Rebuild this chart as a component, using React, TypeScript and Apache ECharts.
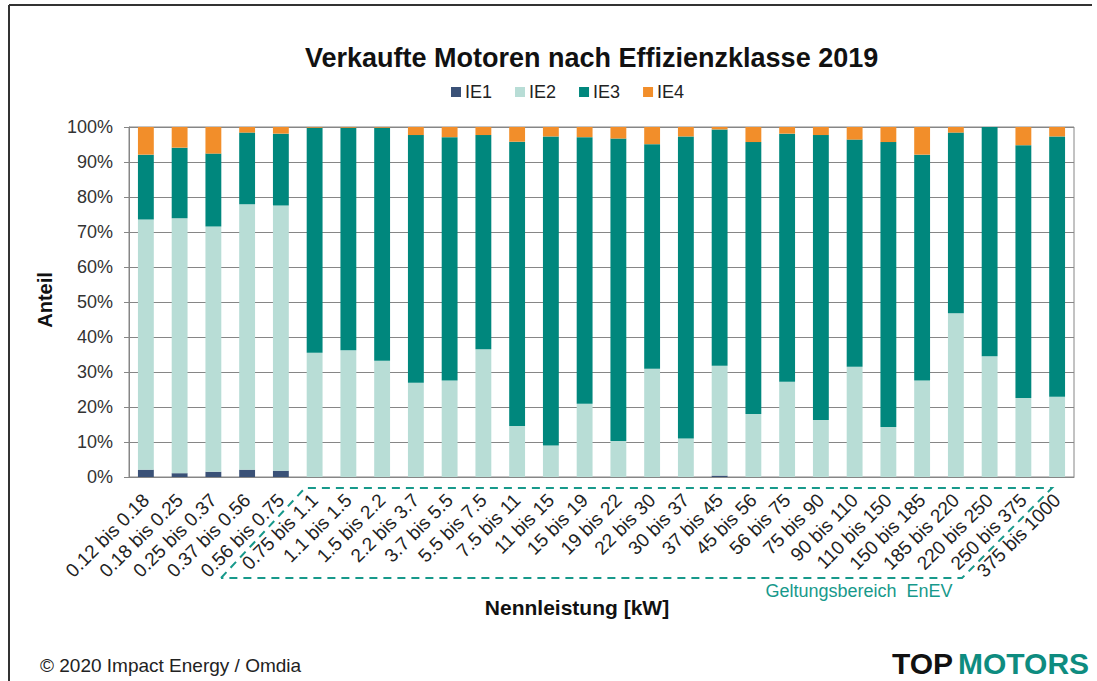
import React, { useEffect, useRef } from "react";
import * as echarts from "echarts";

const categories = [
  "0.12 bis 0.18", "0.18 bis 0.25", "0.25 bis 0.37", "0.37 bis 0.56", "0.56 bis 0.75",
  "0.75 bis 1.1", "1.1 bis 1.5", "1.5 bis 2.2", "2.2 bis 3.7", "3.7 bis 5.5",
  "5.5 bis 7.5", "7.5 bis 11", "11 bis 15", "15 bis 19", "19 bis 22",
  "22 bis 30", "30 bis 37", "37 bis 45", "45 bis 56", "56 bis 75",
  "75 bis 90", "90 bis 110", "110 bis 150", "150 bis 185", "185 bis 220",
  "220 bis 250", "250 bis 375", "375 bis 1000",
];

const ie1 = [2.1, 1.1, 1.5, 2.1, 1.8, 0, 0, 0, 0, 0, 0, 0, 0, 0, 0, 0, 0, 0.4, 0, 0, 0, 0, 0, 0, 0, 0, 0, 0];
const ie2 = [71.5, 72.8, 70.1, 75.8, 75.8, 35.5, 36.2, 33.2, 26.9, 27.6, 36.5, 14.6, 9.0, 20.9, 10.3, 30.9, 11.0, 31.4, 18.0, 27.2, 16.3, 31.5, 14.3, 27.6, 46.8, 34.5, 22.6, 22.9];
const ie3 = [18.5, 20.2, 20.8, 20.5, 20.5, 64.3, 63.6, 66.6, 70.8, 69.5, 61.2, 81.2, 88.3, 76.2, 86.4, 64.2, 86.3, 67.5, 77.7, 70.9, 81.4, 64.9, 81.4, 64.5, 51.6, 65.5, 72.2, 74.4];
const ie4 = [7.9, 5.9, 7.6, 1.6, 1.9, 0.2, 0.2, 0.2, 2.3, 2.9, 2.3, 4.2, 2.7, 2.9, 3.3, 4.9, 2.7, 0.7, 4.3, 1.9, 2.3, 3.6, 4.3, 7.9, 1.6, 0, 5.2, 2.7];

const seriesNames = ["IE1", "IE2", "IE3", "IE4"];
const seriesColors = ["#3A5177", "#B8DDD6", "#00877D", "#F28E2A"];
const yTicks = { min: 0, max: 100, interval: 10 };

const FONT = "'Liberation Sans', Arial, sans-serif";
const TEAL = "#17998B";

export default function App() {
  const ref = useRef<HTMLDivElement>(null);
  useEffect(() => {
    if (!ref.current) return;
    const chart = echarts.init(ref.current, undefined, { renderer: "svg" });
    const data = [ie1, ie2, ie3, ie4];
    chart.setOption({
      animation: false,
      backgroundColor: "#ffffff",
      textStyle: { fontFamily: FONT },
      title: {
        text: "Verkaufte Motoren nach Effizienzklasse 2019",
        left: 300,
        top: 39,
        textStyle: { fontFamily: FONT, fontSize: 27, fontWeight: "bold", color: "#111" },
      },
      legend: {
        data: seriesNames,
        left: 446,
        top: 78,
        icon: "rect",
        itemWidth: 10,
        itemHeight: 10,
        itemGap: 23,
        textStyle: { fontFamily: FONT, fontSize: 18, color: "#222", padding: [0, 0, 0, -1] },
      },
      grid: {
        left: 129,
        right: 23,
        top: 127,
        bottom: 204,
        show: true,
        borderColor: "#868686",
        borderWidth: 1,
      },
      xAxis: {
        type: "category",
        data: categories,
        axisLine: { lineStyle: { color: "#868686", width: 1 } },
        axisTick: { show: false },
        axisLabel: {
          interval: 0,
          rotate: 45,
          margin: 20,
          fontFamily: FONT,
          fontSize: 19,
          color: "#222",
        },
      },
      yAxis: {
        type: "value",
        min: yTicks.min,
        max: yTicks.max,
        interval: yTicks.interval,
        axisLine: { show: true, lineStyle: { color: "#868686", width: 1 } },
        axisTick: { show: true, length: 5, lineStyle: { color: "#868686" } },
        splitLine: { lineStyle: { color: "#868686", width: 1 } },
        axisLabel: {
          formatter: "{value}%",
          margin: 16,
          fontFamily: FONT,
          fontSize: 18,
          color: "#333",
        },
      },
      series: seriesNames.map((name, i) => ({
        name,
        type: "bar",
        stack: "total",
        barCategoryGap: "53%",
        itemStyle: { color: seriesColors[i] },
        emphasis: { disabled: true },
        data: data[i],
      })),
      graphic: [
        { type: "line", shape: { x1: 9, y1: 5, x2: 1092, y2: 5 }, style: { stroke: "#333", lineWidth: 2 } },
        { type: "line", shape: { x1: 9, y1: 5, x2: 9, y2: 681 }, style: { stroke: "#333", lineWidth: 2 } },
        {
          type: "text",
          x: 45,
          y: 300,
          rotation: Math.PI / 2,
          style: {
            text: "Anteil",
            font: `bold 20px ${FONT}`,
            fill: "#111",
            textAlign: "center",
            textVerticalAlign: "middle",
          },
        },
        {
          type: "text",
          x: 577,
          y: 607,
          style: {
            text: "Nennleistung [kW]",
            font: `bold 21px ${FONT}`,
            fill: "#111",
            textAlign: "center",
            textVerticalAlign: "middle",
          },
        },
        {
          type: "polyline",
          shape: {
            points: [
              [221, 578], [305, 488], [1052, 488], [962, 578], [221, 578],
            ],
          },
          style: { stroke: TEAL, lineWidth: 2, fill: null, lineDash: [8, 6] },
        },
        {
          type: "text",
          x: 859,
          y: 591,
          style: {
            text: "Geltungsbereich  EnEV",
            font: `18px ${FONT}`,
            fill: TEAL,
            textAlign: "center",
            textVerticalAlign: "middle",
          },
        },
        {
          type: "text",
          x: 40,
          y: 665,
          style: {
            text: "© 2020 Impact Energy / Omdia",
            font: `19px ${FONT}`,
            fill: "#222",
            textAlign: "left",
            textVerticalAlign: "middle",
          },
        },
        {
          type: "text",
          x: 892,
          y: 663,
          style: {
            text: "TOP",
            font: `900 30px ${FONT}`,
            fill: "#111",
            textAlign: "left",
            textVerticalAlign: "middle",
          },
        },
        {
          type: "text",
          x: 958,
          y: 663,
          style: {
            text: "MOTORS",
            font: `900 30px ${FONT}`,
            fill: "#0E8C80",
            textAlign: "left",
            textVerticalAlign: "middle",
          },
        },
      ],
    });
    return () => chart.dispose();
  }, []);
  return (
    <div
      ref={ref}
      style={{ position: "fixed", left: 0, top: 0, width: 1097, height: 681, background: "#fff" }}
    />
  );
}
